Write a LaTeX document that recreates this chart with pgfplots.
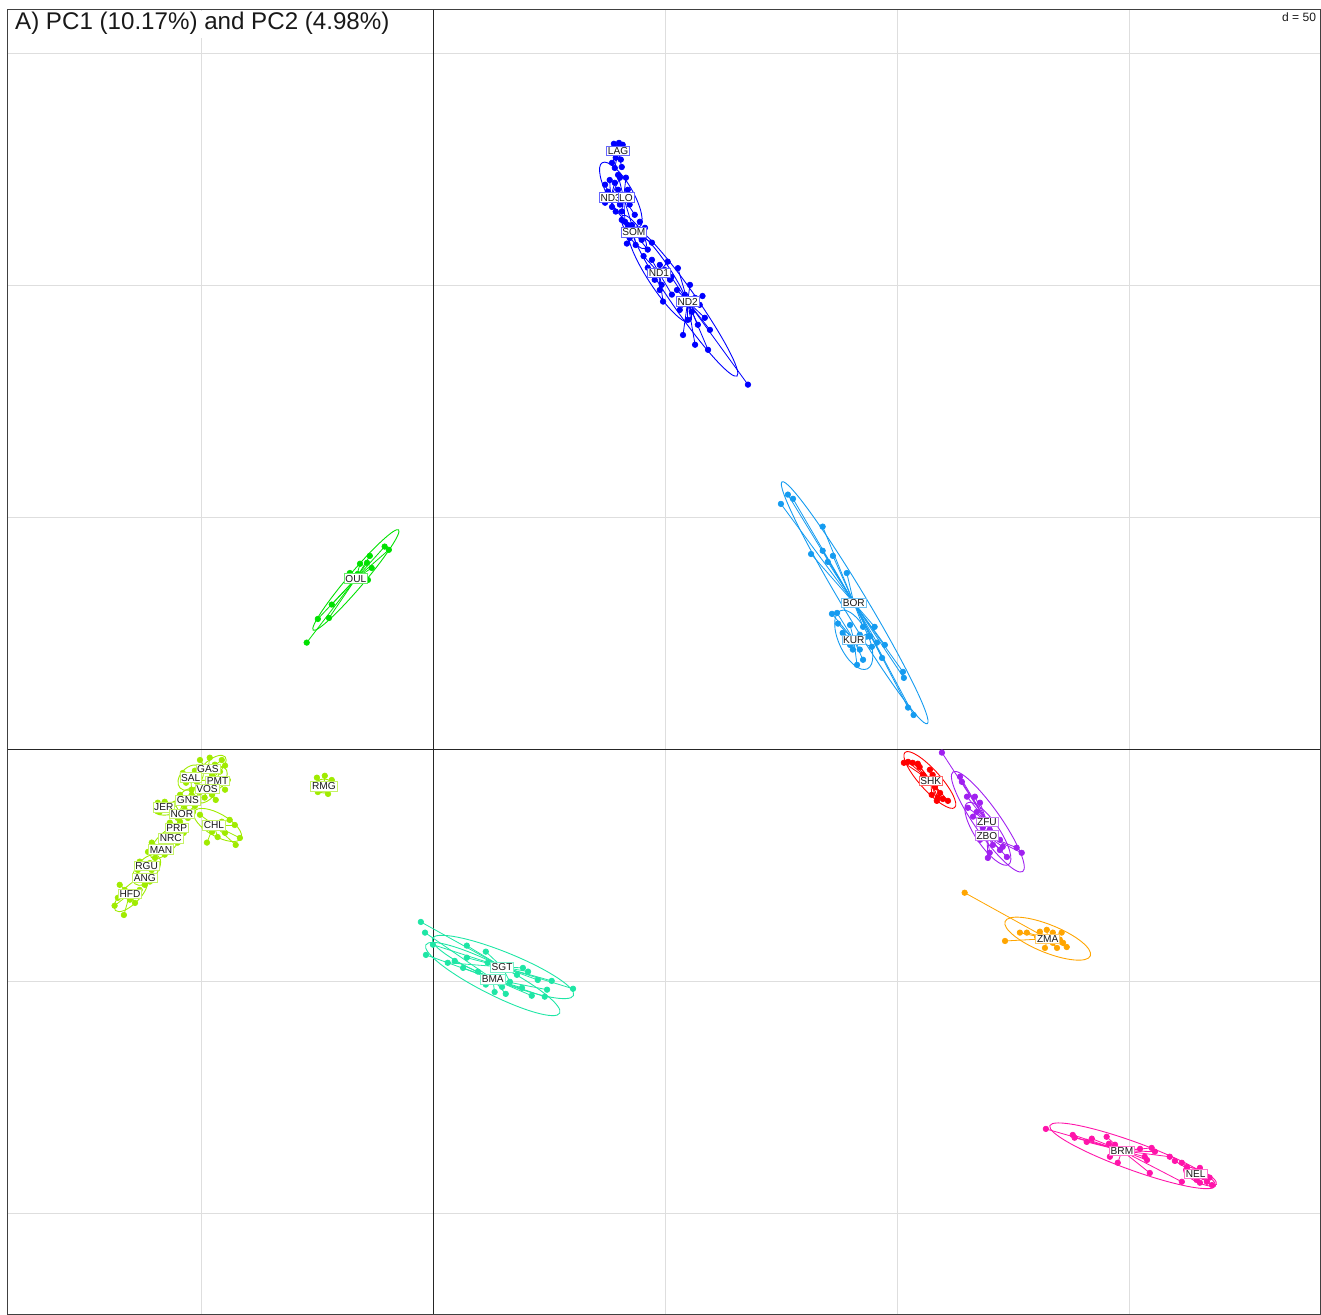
\documentclass[border=0pt]{standalone}
\usepackage{pgfplots}
\usepackage{pgfplotstable}
\pgfplotsset{compat=1.18}
\usepackage{fontspec}
\setmainfont{Liberation Sans}

\definecolor{cBlue}{RGB}{0,0,255}
\definecolor{cCyan}{RGB}{20,155,240}
\definecolor{cGreen}{RGB}{0,225,0}
\definecolor{cYG}{RGB}{160,235,0}
\definecolor{cRed}{RGB}{255,0,0}
\definecolor{cPurple}{RGB}{160,32,240}
\definecolor{cOrange}{RGB}{255,165,0}
\definecolor{cTeal}{RGB}{30,230,165}
\definecolor{cPink}{RGB}{255,20,170}

\pgfplotstableread{
x y
38.8 130.6
39.9 130.8
40.7 130.4
39.4 129.7
40.3 129.5
38.6 129.1
40.9 128.9
39.2 127.6
40.3 127.2
38.4 126.5
40.5 125.6
39.0 125.4
}\tLAG
\pgfplotstableread{
x y
36.9 121.8
37.9 122.8
39.0 122.2
40.1 123.3
37.5 120.3
39.7 120.7
36.9 117.9
38.4 117.0
40.1 117.5
39.2 116.0
}\tNDthree
\pgfplotstableread{
x y
39.7 123.9
41.4 123.3
41.8 120.7
42.2 117.5
40.5 116.0
43.3 115.3
41.2 113.8
42.7 113.1
}\tLO
\pgfplotstableread{
x y
40.5 114.2
41.8 113.1
44.4 113.8
45.5 112.5
42.2 110.3
44.8 109.9
43.5 108.8
46.1 107.8
41.6 109.1
47.0 109.3
}\tSOM
\pgfplotstableread{
x y
47.0 105.6
48.7 104.5
49.8 103.4
50.4 105.2
47.6 101.3
49.1 100.2
50.9 101.3
49.4 96.6
46.1 103.9
51.3 98.1
48.7 99.1
45.2 106.4
}\tNDone
\pgfplotstableread{
x y
52.4 99.1
54.1 98.1
55.2 100.2
56.3 97.4
57.3 95.9
53.0 94.8
55.6 94.4
58.4 93.1
56.9 91.6
59.5 90.5
56.3 87.3
59.1 86.2
67.7 78.7
54.7 92.7
53.7 89.4
51.2 101.9
52.6 103.8
57.9 97.8
}\tNDtwo
\pgfplotstableread{
x y
74.8 53.0
76.3 55.0
77.4 54.1
83.8 48.1
83.8 42.9
81.3 42.2
84.9 40.5
86.0 41.8
89.0 38.1
101.1 16.8
101.3 15.5
102.2 9.1
103.4 7.5
97.2 22.6
96.6 19.8
95.0 26.5
95.5 23.1
92.5 26.5
94.0 24.4
}\tBOR
\pgfplotstableread{
x y
85.8 29.3
86.9 29.5
87.1 27.2
89.7 26.9
88.1 25.2
90.3 21.6
91.8 21.6
91.2 18.3
92.5 19.4
89.7 22.6
94.4 22.2
93.3 24.4
88.6 24.1
91.8 24.8
}\tKUR
\pgfplotstableread{
x y
-27.4 23.1
-25.0 28.2
-22.6 28.4
-22.0 31.3
-18.1 38.1
-16.4 37.9
-15.9 40.1
-14.4 40.3
-13.8 41.8
-13.4 39.2
-10.6 43.8
-9.7 43.1
-14.2 36.6
}\tOUL
\pgfplotstableread{
x y
-25.2 -6.0
-23.5 -5.6
-22.0 -6.5
-25.0 -9.1
-22.8 -9.5
-22.0 -8.4
-24.6 -7.5
}\tRMG
\pgfplotstableread{
x y
-50.4 -2.2
-48.3 -1.7
-45.7 -2.2
-45.0 -3.4
-47.2 -3.2
-49.4 -3.9
}\tGAS
\pgfplotstableread{
x y
-46.1 -4.7
-44.4 -6.5
-47.2 -7.5
-45.0 -8.6
-47.8 -5.4
}\tPMT
\pgfplotstableread{
x y
-54.1 -5.0
-51.5 -4.5
-53.4 -7.1
-51.1 -6.9
-52.2 -8.6
}\tSAL
\pgfplotstableread{
x y
-50.4 -9.1
-47.8 -9.7
-47.0 -10.8
-49.4 -10.3
}\tVOS
\pgfplotstableread{
x y
-54.7 -9.7
-52.2 -9.7
-53.7 -11.9
-51.5 -12.1
-55.2 -11.2
}\tGNS
\pgfplotstableread{
x y
-59.5 -11.4
-58.0 -11.2
-59.1 -13.4
-56.5 -14.0
-55.8 -11.6
}\tJER
\pgfplotstableread{
x y
-55.2 -14.7
-53.0 -14.7
-53.7 -12.9
-51.9 -13.4
}\tNOR
\pgfplotstableread{
x y
-50.4 -14.0
-49.4 -16.8
-47.8 -17.7
-45.7 -15.5
-44.0 -15.1
-42.9 -16.2
-41.8 -19.0
-42.7 -20.5
-45.0 -17.9
-46.6 -18.8
-48.9 -20.0
}\tCHL
\pgfplotstableread{
x y
-56.9 -15.7
-54.7 -15.5
-56.5 -17.7
-53.9 -17.9
}\tPRP
\pgfplotstableread{
x y
-58.0 -18.5
-55.8 -19.0
-57.3 -20.5
-55.2 -20.0
}\tNRC
\pgfplotstableread{
x y
-60.8 -20.0
-59.5 -21.6
-58.0 -22.6
-60.1 -23.3
-61.6 -22.0
}\tMAN
\pgfplotstableread{
x y
-63.4 -24.1
-61.2 -24.4
-60.8 -25.9
-63.8 -25.9
}\tRGU
\pgfplotstableread{
x y
-63.4 -28.0
-61.2 -28.4
-62.3 -29.1
-60.1 -27.6
}\tANG
\pgfplotstableread{
x y
-67.7 -29.1
-66.6 -30.2
-68.1 -31.9
-68.8 -33.6
-66.8 -35.6
-64.4 -33.0
-63.4 -30.2
-65.5 -32.3
}\tHFD
\pgfplotstableread{
x y
101.3 -2.8
102.2 -2.6
103.2 -2.8
104.3 -3.0
104.7 -3.7
106.9 -4.3
107.5 -5.4
105.4 -5.4
108.0 -8.0
109.1 -9.3
108.6 -10.3
110.8 -11.0
109.7 -10.6
108.4 -11.0
107.3 -9.7
}\tSHK
\pgfplotstableread{
x y
109.5 -0.6
113.4 -5.8
113.8 -6.9
114.9 -10.1
116.6 -10.1
117.7 -11.4
115.1 -12.5
117.0 -13.4
116.2 -14.4
118.3 -16.8
119.8 -17.2
}\tZFU
\pgfplotstableread{
x y
120.9 -18.8
122.0 -19.4
122.6 -20.9
120.5 -20.5
119.8 -22.2
119.4 -23.3
123.5 -23.1
125.6 -21.1
126.7 -22.2
122.0 -21.6
117.7 -19.4
}\tZBO
\pgfplotstableread{
x y
114.4 -30.8
123.1 -41.2
126.3 -39.4
127.8 -39.4
130.6 -39.2
132.1 -38.8
133.4 -39.4
135.3 -39.4
135.6 -41.6
136.4 -42.5
134.3 -42.7
131.7 -42.7
133.4 -41.6
134.9 -40.9
130.0 -40.3
}\tZMA
\pgfplotstableread{
x y
-2.8 -37.1
-0.2 -42.0
3.0 -45.9
7.1 -42.2
7.1 -44.8
11.2 -43.5
11.6 -45.9
16.4 -50.0
17.9 -48.5
19.2 -47.0
20.3 -47.8
22.4 -49.6
25.4 -49.8
30.0 -51.5
}\tSGT
\pgfplotstableread{
x y
-1.9 -39.4
-1.7 -44.2
4.5 -45.5
6.3 -47.0
9.5 -47.8
11.2 -50.6
13.1 -52.2
15.5 -52.6
14.7 -51.1
24.4 -51.7
23.9 -53.2
21.1 -53.0
19.0 -51.3
}\tBMA
\pgfplotstableread{
x y
131.9 -81.7
137.7 -83.0
138.1 -83.6
140.7 -84.5
141.8 -83.8
145.0 -83.4
145.5 -84.9
146.8 -85.1
145.7 -87.7
147.4 -89.0
152.2 -86.0
153.2 -87.7
154.7 -85.8
155.4 -86.6
153.7 -88.4
154.3 -91.2
158.6 -87.7
161.2 -93.1
}\tBRM
\pgfplotstableread{
x y
159.7 -88.6
161.2 -89.0
162.3 -89.9
165.1 -90.1
165.7 -92.0
166.6 -93.1
167.7 -93.8
165.1 -93.3
167.2 -92.2
164.4 -92.7
163.6 -90.9
}\tNEL

% star lines from each point to the group centre, then the points
\newcommand\grp[4]{%
  \addplot[#1, line width=0.5pt, no markers, quiver={u={#2-\thisrow{x}}, v={#3-\thisrow{y}}}] table {#4};
  \addplot[#1, only marks, mark=*, mark size=1.7pt] table {#4};
}
% ellipse: colour, cx, cy, angle, semi-axes (axis units = mm)
\newcommand\elp[6]{%
  \draw[#1, line width=0.55pt, rotate around={#4:(axis cs:#2,#3)}] (axis cs:#2,#3) ellipse [x radius=#5mm, y radius=#6mm];
}
% label anchor (inside axis) and label box (drawn after the axis, on top)
\newcommand\lc[3]{\coordinate (L#1) at (axis cs:#2,#3);}
\newcommand\lab[3]{%
  \node[fill=white, draw=#1!60, line width=0.35pt, inner sep=0.8pt, text=black!90,
        font=\fontsize{6.2}{6.5}\selectfont] at (L#2) {#3};
}

\begin{document}
\begin{tikzpicture}
\begin{axis}[
  x=1mm, y=1mm,
  xmin=-91.8, xmax=191.0, ymin=-121.6, ymax=159.5,
  axis line style={draw=black!75, line width=0.6pt},
  xtick={-50,50,100,150}, ytick={-100,-50,50,100,150},
  extra x ticks={0}, extra y ticks={0},
  extra x tick labels={}, extra y tick labels={},
  extra tick style={major grid style={black!85, line width=0.6pt}},
  grid=major, major grid style={black!13, line width=0.6pt},
  major tick length=0pt,
  xticklabels={}, yticklabels={},
  every tick label/.append style={overlay},
  clip=false,
]
% blue
\grp{cBlue}{39.7}{128.9}{\tLAG}
\grp{cBlue}{38.1}{119.0}{\tNDthree}
\grp{cBlue}{40.9}{119.0}{\tLO}
\grp{cBlue}{43.1}{111.6}{\tSOM}
\grp{cBlue}{48.5}{102.8}{\tNDone}
\grp{cBlue}{54.7}{96.6}{\tNDtwo}
% cyan
\grp{cCyan}{90.5}{31.7}{\tBOR}
\grp{cCyan}{90.5}{23.7}{\tKUR}
% green
\grp{cGreen}{-16.8}{36.9}{\tOUL}
% yellow-green
\grp{cYG}{-23.7}{-7.8}{\tRMG}
\grp{cYG}{-48.7}{-4.5}{\tGAS}
\grp{cYG}{-46.8}{-6.3}{\tPMT}
\grp{cYG}{-52.4}{-6.0}{\tSAL}
\grp{cYG}{-48.9}{-8.2}{\tVOS}
\grp{cYG}{-53.0}{-10.8}{\tGNS}
\grp{cYG}{-57.3}{-12.5}{\tJER}
\grp{cYG}{-54.3}{-13.6}{\tNOR}
\grp{cYG}{-47.4}{-16.2}{\tCHL}
\grp{cYG}{-55.4}{-16.8}{\tPRP}
\grp{cYG}{-56.9}{-19.4}{\tNRC}
\grp{cYG}{-58.6}{-20.9}{\tMAN}
\grp{cYG}{-61.9}{-25.4}{\tRGU}
\grp{cYG}{-62.3}{-26.9}{\tANG}
\grp{cYG}{-65.5}{-31.0}{\tHFD}
% red, purple, orange
\grp{cRed}{107.1}{-6.7}{\tSHK}
\grp{cPurple}{119.2}{-15.5}{\tZFU}
\grp{cPurple}{119.2}{-18.5}{\tZBO}
\grp{cOrange}{132.3}{-40.7}{\tZMA}
% teal
\grp{cTeal}{14.7}{-46.8}{\tSGT}
\grp{cTeal}{12.7}{-49.4}{\tBMA}
% pink
\grp{cPink}{148.3}{-86.4}{\tBRM}
\grp{cPink}{164.2}{-91.4}{\tNEL}

% ellipses
\elp{cBlue}{40.3}{119.6}{-60}{8.0}{2.6}
\elp{cBlue}{43.1}{111.6}{-55}{4.3}{1.4}
\elp{cBlue}{48.7}{102.2}{-57}{11.9}{2.6}
\elp{cBlue}{54.1}{96.6}{-55}{19.6}{2.5}
\elp{cCyan}{90.7}{31.7}{-59}{30.4}{2.6}
\elp{cCyan}{90.5}{23.7}{-65}{6.9}{3.2}
\elp{cGreen}{-16.8}{36.6}{49.6}{14.2}{1.7}
\elp{cYG}{-23.7}{-7.8}{0}{2.0}{1.5}
\elp{cYG}{-47.8}{-3.9}{40}{3.7}{1.7}
\elp{cYG}{-52.4}{-6.0}{45}{3.2}{2.2}
\elp{cYG}{-46.5}{-6.3}{60}{2.8}{1.6}
\elp{cYG}{-49.0}{-9.5}{40}{2.6}{1.4}
\elp{cYG}{-46.6}{-16.2}{-30}{5.8}{2.4}
\elp{cYG}{-57.3}{-12.7}{10}{3.0}{1.3}
\elp{cYG}{-53.0}{-10.8}{45}{3.0}{2.0}
\elp{cYG}{-57.7}{-20.0}{45}{4.5}{2.0}
\elp{cYG}{-61.9}{-25.9}{50}{3.9}{2.2}
\elp{cYG}{-65.3}{-31.3}{45}{4.7}{1.9}
\elp{cRed}{106.9}{-6.5}{-48}{8.0}{2.2}
\elp{cPurple}{119.4}{-15.5}{-55}{13.1}{2.8}
\elp{cPurple}{119.4}{-18.1}{-56}{8.0}{2.6}
\elp{cOrange}{132.3}{-40.7}{-22}{9.9}{3.0}
\elp{cTeal}{14.9}{-46.8}{-22}{16.4}{3.2}
\elp{cTeal}{12.7}{-49.4}{-27}{16.2}{3.2}
\elp{cPink}{150.6}{-87.5}{-20}{19.0}{3.0}
\elp{cPink}{165.1}{-92.0}{-25}{3.9}{1.3}

% label anchors
\lc{LAG}{39.7}{129.1}
\lc{NDa}{38.1}{119.0}
\lc{LO}{41.4}{119.0}
\lc{SOM}{43.1}{111.6}
\lc{NDb}{48.5}{102.8}
\lc{NDc}{54.7}{96.6}
\lc{BOR}{90.5}{31.7}
\lc{KUR}{90.5}{23.7}
\lc{OUL}{-16.8}{36.9}
\lc{RMG}{-23.7}{-7.8}
\lc{GAS}{-48.7}{-4.1}
\lc{SAL}{-52.4}{-6.0}
\lc{PMT}{-46.6}{-6.7}
\lc{VOS}{-48.9}{-8.4}
\lc{GNS}{-53.0}{-10.8}
\lc{JER}{-58.2}{-12.4}
\lc{NOR}{-54.3}{-13.8}
\lc{CHL}{-47.4}{-16.2}
\lc{PRP}{-55.4}{-16.8}
\lc{NRC}{-56.7}{-19.0}
\lc{MAN}{-58.8}{-21.5}
\lc{ANG}{-62.3}{-27.6}
\lc{RGU}{-61.9}{-25.0}
\lc{HFD}{-65.5}{-31.0}
\lc{SHK}{107.1}{-6.7}
\lc{ZFU}{119.2}{-15.5}
\lc{ZBO}{119.2}{-18.5}
\lc{ZMA}{132.3}{-40.7}
\lc{SGT}{14.7}{-46.8}
\lc{BMA}{12.7}{-49.4}
\lc{BRM}{148.3}{-86.4}
\lc{NEL}{164.2}{-91.4}

% title and scale
\fill[white] (axis cs:-91.5,159.2) rectangle (axis cs:-5,153.4);
\node[anchor=north west, inner sep=0pt, text=black!90, font=\fontsize{14.8}{16}\selectfont]
  at (axis cs:-90.3,159.0) {A) PC1 (10.17\%) and PC2 (4.98\%)};
\node[anchor=north east, inner sep=0pt, text=black!90, font=\fontsize{7.4}{8}\selectfont]
  at (axis cs:190.2,158.9) {d = 50};
\coordinate (bbl) at (axis cs:-93.5,-121.8);
\coordinate (btr) at (axis cs:191.2,161.6);
\end{axis}
% labels on top of everything
\lab{cBlue}{LAG}{LAG}
\lab{cBlue}{NDa}{ND3}
\lab{cBlue}{LO}{LO}
\lab{cBlue}{SOM}{SOM}
\lab{cBlue}{NDb}{ND1}
\lab{cBlue}{NDc}{ND2}
\lab{cCyan}{BOR}{BOR}
\lab{cCyan}{KUR}{KUR}
\lab{cGreen}{OUL}{OUL}
\lab{cYG}{RMG}{RMG}
\lab{cYG}{GAS}{GAS}
\lab{cYG}{SAL}{SAL}
\lab{cYG}{PMT}{PMT}
\lab{cYG}{VOS}{VOS}
\lab{cYG}{GNS}{GNS}
\lab{cYG}{JER}{JER}
\lab{cYG}{NOR}{NOR}
\lab{cYG}{CHL}{CHL}
\lab{cYG}{PRP}{PRP}
\lab{cYG}{MAN}{MAN}
\lab{cYG}{NRC}{NRC}
\lab{cYG}{ANG}{ANG}
\lab{cYG}{RGU}{RGU}
\lab{cYG}{HFD}{HFD}
\lab{cRed}{SHK}{SHK}
\lab{cPurple}{ZFU}{ZFU}
\lab{cPurple}{ZBO}{ZBO}
\lab{cOrange}{ZMA}{ZMA}
\lab{cTeal}{SGT}{SGT}
\lab{cTeal}{BMA}{BMA}
\lab{cPink}{BRM}{BRM}
\lab{cPink}{NEL}{NEL}
\pgfresetboundingbox
\useasboundingbox (bbl) rectangle (btr);
\end{tikzpicture}
\end{document}
